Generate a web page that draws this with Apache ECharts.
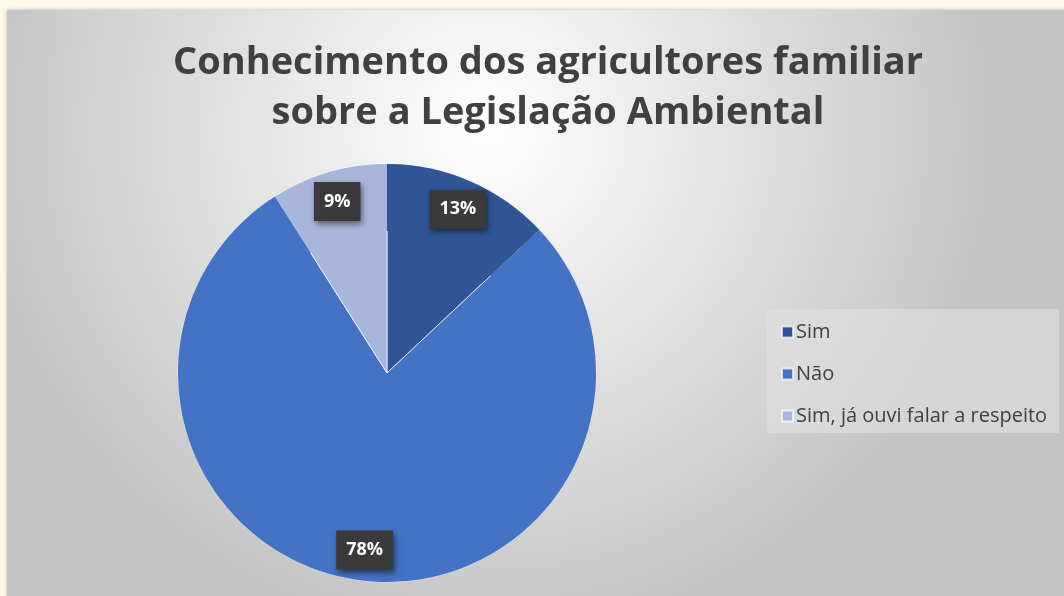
<!DOCTYPE html>
<html>
<head>
<meta charset="utf-8">
<script src="https://cdn.jsdelivr.net/npm/echarts@6/dist/echarts.min.js"></script>
<style>
  html, body { margin: 0; padding: 0; background: #fdf8e8; }
  #chart { width: 1064px; height: 596px; }
</style>
</head>
<body>
<div id="chart"></div>
<script>
	var chart = echarts.init(document.getElementById('chart'));
	// categorias
	let categorias = ['Sim', 'Não', 'Sim, já ouvi falar a respeito'];
	// percentuais
	let valores = [13, 78, 9];
	let cores = ['#2f5597', '#4472c4', '#a9b6dc'];

	let _dados = categorias.map(function (c, i) {
		return { name: c, value: valores[i], itemStyle: { color: cores[i] } };
	});

	let option = {
		backgroundColor: '#fdf8e8',
		graphic: [{
			type: 'rect',
			shape: { x: 7, y: 10, width: 1064, height: 600 },
			style: {
				fill: new echarts.graphic.RadialGradient(0.45, 0.2, 0.85, [
					{ offset: 0, color: '#ffffff' },
					{ offset: 1, color: '#c4c4c4' }
				]),
				shadowBlur: 4,
				shadowColor: 'rgba(0,0,0,0.25)'
			},
			z: -10
		}, {
			type: 'rect',
			shape: { x: 767, y: 309, width: 292, height: 124 },
			style: { fill: 'rgba(225,225,225,0.6)' },
			z: -5
		}],
		title: {
			text: 'Conhecimento dos agricultores familiar\nsobre a Legislação Ambiental',
			left: 543,
			top: 33,
			textAlign: 'center',
			textStyle: {
				color: '#404040',
				fontFamily: 'Open Sans',
				fontWeight: 'bold',
				fontSize: 38,
				lineHeight: 50
			}
		},
		legend: {
			orient: 'vertical',
			left: 776,
			top: 317,
			itemWidth: 11,
			itemHeight: 11,
			itemGap: 22,
			icon: 'rect',
			textStyle: { color: '#404040', fontSize: 20, fontFamily: 'Open Sans', padding: [0, 0, 0, -2] },
			data: categorias
		},
		series: [{
			name: 'Conhecimento',
			type: 'pie',
			center: [387, 373],
			radius: 209,
			startAngle: 90,
			clockwise: true,
			data: _dados,
			label: { show: false },
			labelLine: { show: false },
			itemStyle: { borderColor: 'rgba(255,255,255,0.7)', borderWidth: 1 },
			emphasis: { disabled: true }
		}, {
			// só os rótulos
			name: 'rotulos',
			type: 'pie',
			center: [387, 373],
			radius: [142, 209],
			startAngle: 90,
			clockwise: true,
			silent: true,
			data: _dados,
			itemStyle: { color: 'rgba(0,0,0,0)', borderWidth: 0 },
			label: {
				show: true,
				position: 'inside',
				formatter: '{d}%',
				color: '#fff',
				fontSize: 18,
				fontWeight: 'bold',
				fontFamily: 'Open Sans',
				backgroundColor: '#3a3a3a',
				padding: [11, 10, 10, 10],
				shadowBlur: 6,
				shadowOffsetX: 2,
				shadowOffsetY: 3,
				shadowColor: 'rgba(0,0,0,0.5)'
			},
			labelLine: { show: false },
			emphasis: { disabled: true }
		}]
	};
	chart.setOption(option);
</script>
</body>
</html>
